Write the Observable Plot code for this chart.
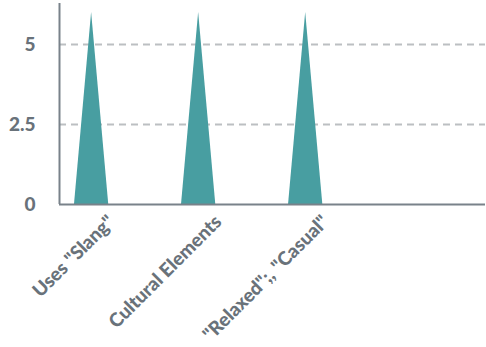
<!DOCTYPE html>
<html>
<head>
<meta charset="utf-8">
<script src="https://cdn.jsdelivr.net/npm/d3@7"></script>
<script src="https://cdn.jsdelivr.net/npm/@observablehq/plot@0.6"></script>
<style>
  html, body { margin: 0; padding: 0; background: #fff; }
  #chart { width: 486px; height: 347px; }
</style>
</head>
<body>
<div id="chart"></div>
<script>
// Categories and their scores
const categories = ["Uses \"Slang\"", "Cultural Elements", "\"Relaxed\";, \"Casual\""];
const values = [6, 6, 6];
const yTicks = [0, 2.5, 5];

const teal = "#489ea1";
const axisGray = "#79828a";
const textGray = "#69727a";

// Each score is drawn as a narrow spike centred on its category
const halfWidth = 0.16;
const spikes = categories.flatMap((c, i) => [
  {cat: c, x: i - halfWidth, y: 0},
  {cat: c, x: i, y: values[i]},
  {cat: c, x: i + halfWidth, y: 0}
]);

const chart = Plot.plot({
  width: 486,
  height: 347,
  marginLeft: 59,
  marginRight: 1,
  marginTop: 3,
  marginBottom: 143,
  style: {fontFamily: "Lato", fontWeight: "900", color: textGray, background: "#fff"},
  x: {
    domain: [-0.3, 3.68],
    ticks: categories.map((d, i) => i),
    tickFormat: i => categories[i],
    tickRotate: -45,
    tickSize: 0,
    tickPadding: 10,
    label: null
  },
  y: {
    domain: [0, 6.28],
    ticks: yTicks,
    tickFormat: d => String(d),
    tickSize: 0,
    tickPadding: 24,
    label: null
  },
  marks: [
    Plot.ruleY([2.5, 5], {stroke: "#bcbfc2", strokeWidth: 2, strokeDasharray: "7,5"}),
    Plot.areaY(spikes, {x: "x", y: "y", z: "cat", fill: teal}),
    Plot.ruleY([0], {stroke: axisGray, strokeWidth: 2}),
    Plot.ruleX([-0.3], {stroke: axisGray, strokeWidth: 2})
  ]
});

// Larger tick label type
chart.querySelectorAll("text").forEach(t => {
  const label = t.closest("g[aria-label]")?.getAttribute("aria-label") || "";
  if (label.startsWith("y-axis")) t.style.fontSize = "19px";
  if (label.startsWith("x-axis")) {
    t.style.fontSize = "19px";
    t.setAttribute("dx", "11");
    t.setAttribute("dy", "17");
  }
});
document.getElementById("chart").appendChild(chart);
</script>
</body>
</html>
